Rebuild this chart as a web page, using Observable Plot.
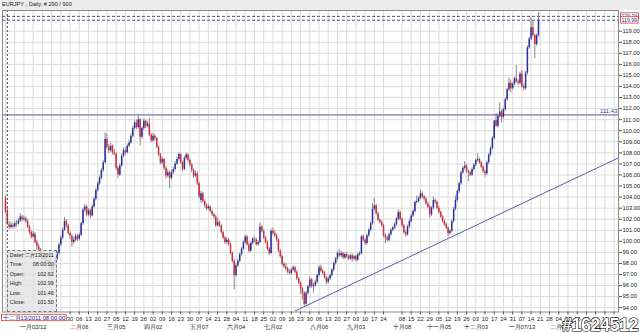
<!DOCTYPE html>
<html><head><meta charset="utf-8">
<script src="https://cdn.jsdelivr.net/npm/d3@7"></script>
<script src="https://cdn.jsdelivr.net/npm/@observablehq/plot@0.6"></script>
<style>
body{margin:0;background:#fff;font-family:"Liberation Sans",Arial,sans-serif;}
#wrap{position:relative;width:640px;height:333px;overflow:hidden;background:#fff;}
#title{height:10px;background:#ececec;font-size:5.6px;line-height:8px;padding-left:2px;color:#222;box-sizing:border-box;white-space:nowrap;}
#tip{position:absolute;background:rgba(228,228,228,0.85);border:1px dashed #777;font-size:5.4px;color:#222;box-sizing:border-box;}
#tip .row{position:relative;height:9.6px;line-height:9.6px;white-space:nowrap;}
#tip .k{position:absolute;left:2px;top:0;}
#tip .v{position:absolute;right:2px;top:0;}
#wm{position:absolute;right:2px;bottom:-3px;font:bold 18px "Liberation Sans",Arial,sans-serif;color:#fff;-webkit-text-stroke:1.2px #000;paint-order:stroke fill;letter-spacing:-0.5px;}
</style></head>
<body><div id="wrap"><div id="title"></div><div id="chart"></div><div id="tip"></div><div id="wm"></div></div>
<script>
const titleText = "EURJPY , Daily, # 290 / 900";
const watermark = "#1624512";

// Daily bars from 12 Dec 2011 to 18 Jan 2013 (trading-day order)
const open = [103.90,102.62,101.50,101.25,101.45,101.30,101.60,101.55,101.85,102.20,101.95,102.05,101.80,101.30,100.80,100.40,100.65,99.90,99.50,99.20,98.70,98.40,98.60,98.05,98.25,97.60,97.35,97.85,98.35,98.90,99.70,100.30,101.00,101.80,101.40,100.70,100.45,99.90,100.10,100.45,100.20,100.55,101.60,102.80,103.10,102.40,102.75,102.30,103.10,103.80,104.60,105.20,105.70,106.40,107.10,109.20,108.50,108.20,108.60,108.00,107.90,106.60,106.00,106.80,107.70,108.20,108.00,108.60,108.90,109.50,110.20,110.70,110.30,111.00,109.40,110.20,110.85,110.40,110.60,109.60,109.10,109.50,109.30,108.50,107.80,107.10,107.40,106.60,105.90,106.20,105.70,106.20,106.50,107.00,107.40,107.85,107.10,106.50,107.50,107.80,107.30,106.90,106.40,105.90,106.10,105.20,103.70,104.30,103.60,103.20,102.95,103.10,102.70,102.40,102.20,101.40,101.70,101.40,100.80,100.30,99.90,100.10,99.70,98.90,98.20,96.90,97.80,98.20,98.80,99.30,99.90,100.40,99.70,99.10,99.80,100.20,100.10,99.70,99.90,101.30,100.90,100.30,99.90,99.30,98.90,100.90,100.70,100.50,100.10,99.10,98.60,97.90,97.70,97.50,97.20,97.10,97.40,97.60,97.20,96.60,96.20,95.70,95.30,94.30,95.30,95.90,96.50,95.90,96.00,96.30,96.90,97.60,97.30,97.10,96.70,96.30,96.60,96.90,97.40,98.00,98.40,98.90,98.70,98.90,98.50,98.80,98.60,98.40,98.70,98.40,98.60,98.30,98.80,98.90,100.40,100.10,99.80,100.50,101.00,101.60,102.90,103.20,102.50,101.90,101.70,101.40,100.50,100.30,100.10,100.60,101.00,101.20,101.50,102.00,102.60,102.00,101.40,100.80,100.60,101.30,101.80,102.30,102.70,103.50,103.60,103.90,104.30,104.00,103.80,103.40,103.10,102.40,103.00,103.70,103.50,103.00,102.60,102.20,101.80,101.50,101.20,100.70,100.90,101.80,102.90,103.70,104.50,105.20,106.20,106.60,106.80,106.30,106.20,106.00,106.50,106.90,107.30,107.40,107.10,106.70,106.30,106.10,107.10,107.80,108.40,109.30,110.90,110.40,111.30,111.70,111.20,111.90,112.80,113.70,114.30,113.80,114.20,114.70,114.40,114.30,115.10,114.00,113.80,115.20,117.50,118.30,119.30,118.60,117.80,118.60];
const high = [104.10,102.99,101.80,101.70,101.65,101.80,101.85,102.05,102.50,102.35,102.30,102.20,101.95,101.45,100.95,100.90,100.80,100.10,99.75,99.35,98.95,98.90,98.75,98.50,98.40,97.80,98.00,98.55,99.10,99.85,100.50,101.20,102.15,101.95,101.55,100.85,100.60,100.35,100.65,100.60,100.75,101.75,103.00,103.35,103.25,102.95,102.90,103.30,104.00,104.80,105.40,105.90,106.60,107.30,109.80,109.70,108.75,108.85,108.70,108.30,108.00,106.75,107.00,107.90,108.45,108.40,108.80,109.15,109.75,110.40,110.90,110.95,111.43,111.10,110.35,111.05,110.95,110.85,111.10,109.75,109.75,109.65,109.40,108.65,107.95,107.60,107.50,106.75,106.45,106.35,106.40,106.70,107.20,107.60,108.00,107.95,107.25,107.70,107.95,107.90,107.45,107.05,106.55,106.35,106.25,105.35,104.50,104.45,103.75,103.40,103.30,103.20,102.85,102.55,102.35,102.10,101.85,101.55,100.95,100.45,100.30,100.25,99.85,99.05,98.35,97.95,98.40,98.95,99.45,100.05,100.55,100.50,99.85,99.95,100.35,100.40,100.25,100.05,101.70,101.45,101.05,100.45,100.05,99.45,101.10,101.20,100.95,100.65,100.25,99.25,98.75,98.10,98.00,97.65,97.45,97.55,97.80,97.70,97.35,96.75,96.35,95.85,95.45,95.45,96.05,96.80,96.65,96.20,96.45,97.05,97.80,97.85,97.45,97.25,96.85,96.75,97.05,97.55,98.15,98.55,99.05,99.25,99.10,99.00,98.95,98.95,98.75,98.85,98.85,98.75,98.75,98.95,99.05,100.55,100.55,100.25,100.65,101.15,101.75,103.40,103.87,103.35,102.65,102.05,101.85,101.55,100.65,100.45,100.75,101.15,101.35,101.65,102.15,102.85,102.75,102.15,101.55,100.95,101.45,101.95,102.45,102.85,103.65,104.10,104.05,104.60,104.45,104.15,103.95,103.55,103.25,103.15,104.00,103.85,103.65,103.15,102.75,102.35,101.95,101.65,101.35,101.05,101.95,103.05,104.10,104.65,105.35,106.35,106.75,107.20,106.95,106.45,106.35,106.65,107.05,107.45,107.90,107.55,107.25,106.85,106.45,107.25,107.95,108.55,109.45,110.55,111.55,111.50,112.50,111.85,112.05,112.95,113.85,114.75,114.60,114.35,114.85,115.90,114.60,115.30,115.45,114.20,115.35,117.65,118.45,120.20,119.90,118.75,118.75,120.70];
const low = [102.50,101.46,101.05,101.10,101.10,101.20,101.30,101.45,101.70,101.75,101.80,101.60,101.15,100.60,100.20,100.30,99.75,99.10,98.95,98.50,98.20,98.25,97.85,97.90,97.45,97.03,97.20,97.70,98.20,98.75,99.55,100.15,100.90,101.20,100.55,100.20,99.45,99.70,99.95,100.00,100.05,100.40,101.45,102.60,102.20,102.25,102.05,102.20,103.00,103.65,104.45,105.05,105.55,106.25,107.00,108.35,107.95,108.05,107.80,107.70,106.40,105.70,105.85,106.70,107.55,107.80,107.90,108.45,108.75,109.35,110.05,110.10,110.15,108.60,109.20,110.05,110.20,110.25,109.45,108.90,108.95,109.05,108.35,107.65,106.90,106.95,106.40,105.60,105.75,104.75,105.55,106.05,106.35,106.85,107.25,106.95,106.30,106.40,107.35,107.10,106.75,106.20,105.70,105.75,105.05,103.85,103.45,103.45,103.00,102.75,102.80,102.55,102.25,102.00,101.25,101.30,101.25,100.65,100.15,99.70,99.75,99.55,98.75,98.05,95.60,96.75,97.60,98.05,98.65,99.15,99.75,99.55,98.95,99.00,99.65,99.90,99.55,99.55,99.80,100.75,100.15,99.75,99.15,98.75,98.80,100.55,100.35,99.95,98.95,98.45,97.75,97.55,97.35,97.05,96.95,96.95,97.25,97.05,96.45,96.05,95.20,94.70,94.11,94.20,95.15,95.75,95.75,95.30,95.85,96.15,96.75,97.15,96.95,96.55,96.05,96.15,96.45,96.75,97.25,97.85,98.25,98.55,98.55,98.35,98.35,98.45,98.25,98.25,98.10,98.25,98.15,98.15,98.65,98.75,99.95,99.65,99.65,100.35,100.85,101.45,102.75,102.35,101.75,101.55,101.25,100.35,99.80,99.95,99.95,100.45,100.85,101.05,101.35,101.85,101.85,101.25,100.65,100.40,100.45,101.15,101.65,102.15,102.55,103.35,103.45,103.75,103.85,103.65,103.25,102.95,102.10,102.25,102.85,103.35,102.85,102.45,102.05,101.65,101.35,101.05,100.40,100.55,100.75,101.65,102.75,103.55,104.35,105.05,106.05,106.45,106.15,105.40,105.85,105.85,106.35,106.75,107.15,106.95,106.55,106.15,105.80,105.95,106.95,107.65,108.25,109.15,110.30,110.25,111.15,110.70,111.05,111.75,112.65,113.55,113.40,113.65,114.05,114.30,114.10,114.15,113.85,113.60,113.65,115.05,117.35,118.15,118.45,116.50,117.65,118.45];
const close = [102.62,101.50,101.25,101.45,101.30,101.60,101.55,101.85,102.20,101.95,102.05,101.80,101.30,100.80,100.40,100.65,99.90,99.50,99.20,98.70,98.40,98.60,98.05,98.25,97.60,97.35,97.85,98.35,98.90,99.70,100.30,101.00,101.80,101.40,100.70,100.45,99.90,100.10,100.45,100.20,100.55,101.60,102.80,103.10,102.40,102.75,102.30,103.10,103.80,104.60,105.20,105.70,106.40,107.10,109.20,108.50,108.20,108.60,108.00,107.90,106.60,106.00,106.80,107.70,108.20,108.00,108.60,108.90,109.50,110.20,110.70,110.30,111.00,109.40,110.20,110.85,110.40,110.60,109.60,109.10,109.50,109.30,108.50,107.80,107.10,107.40,106.60,105.90,106.20,105.70,106.20,106.50,107.00,107.40,107.85,107.10,106.50,107.50,107.80,107.30,106.90,106.40,105.90,106.10,105.20,104.00,104.30,103.60,103.20,102.95,103.10,102.70,102.40,102.20,101.40,101.70,101.40,100.80,100.30,99.90,100.10,99.70,98.90,98.20,96.90,97.80,98.20,98.80,99.30,99.90,100.40,99.70,99.10,99.80,100.20,100.10,99.70,99.90,101.30,100.90,100.30,99.90,99.30,98.90,100.90,100.70,100.50,100.10,99.10,98.60,97.90,97.70,97.50,97.20,97.10,97.40,97.60,97.20,96.60,96.20,95.70,95.30,94.30,95.30,95.90,96.50,95.90,96.00,96.30,96.90,97.60,97.30,97.10,96.70,96.30,96.60,96.90,97.40,98.00,98.40,98.90,98.70,98.90,98.50,98.80,98.60,98.40,98.70,98.40,98.60,98.30,98.80,98.90,100.40,100.10,99.80,100.50,101.00,101.60,102.90,103.20,102.50,101.90,101.70,101.40,100.50,100.30,100.10,100.60,101.00,101.20,101.50,102.00,102.60,102.00,101.40,100.80,100.60,101.30,101.80,102.30,102.70,103.50,103.60,103.90,104.30,104.00,103.80,103.40,103.10,102.40,103.00,103.70,103.50,103.00,102.60,102.20,101.80,101.50,101.20,100.70,100.90,101.80,102.90,103.70,104.50,105.20,106.20,106.60,106.80,106.30,106.20,106.00,106.50,106.90,107.30,107.40,107.10,106.70,106.30,106.10,107.10,107.80,108.40,109.30,110.90,110.40,111.30,111.70,111.20,111.90,112.80,113.70,114.30,113.80,114.20,114.70,114.40,114.30,115.10,114.00,113.80,115.20,117.50,118.30,119.30,118.60,117.80,118.60,119.99];

// Monday labels, one per trading week (week 0 = 12 Dec 2011); "" = no label shown
// (the first weeks sit under the cursor date box, so they show nothing)
const weekLabels = ["","","","","","","","30","06","13","20","27","05","12","19","26","02","09","16","23","30","07","14","21","28","04","11","18","25","02","09","16","23","30","06","13","20","27","03","10","17","24","","08","15","22","29","05","12","19","26","03","10","17","24","31","07","14","21","28","04","11","18","25","04","11","18"];
const gridWeeks = weekLabels.map((t, k) => k).filter(k => k !== 42);
const monthLabels = ["一月02/12","二月06","三月05","四月02","五月07","六月04","七月02","八月06","九月03","十月08","十一月05","十二月03","一月07/13","二月04","三月04"];
const monthWeeks = [3,8,12,16,21,25,29,34,38,43,47,51,56,60,64];
const priceTicks = [94,95,96,97,98,99,100,101,102,103,104,105,106,107,108,109,110,111,112,113,114,115,116,117,118,119];
const resistance = 111.43;
const lastHigh = 120.34;
const lastPrice = 119.99;
const trendPoints = [{bar: 157, price: 93.70}, {bar: 332.4, price: 107.55}];
const cursorBar = 1;
const cursorDate = "十二月13/2011";
const cursorTime = "08:00:00";

const daysPerWeek = 5;
const yDomain = [93.61, 120.87];
const bars = close.map((c, i) => ({i, o: open[i], h: high[i], l: low[i], c}));
const up = bars.filter(d => d.c >= d.o);
const down = bars.filter(d => d.c < d.o);
const weekTicks = weekLabels.map((t, k) => ({i: k * daysPerWeek, t})).filter(d => d.t !== "");
const labelOf = new Map(weekTicks.map(d => [d.i, d.t]));
const months = monthLabels.map((t, k) => ({i: monthWeeks[k] * daysPerWeek, t}));

const BLUE = "#2b2ea6", RED = "#d8283c", WICK = "#7a7a7a", GRID = "#dcdcdc";

document.getElementById("title").textContent = titleText;

const chart = Plot.plot({
  width: 640, height: 323,
  marginTop: 0, marginBottom: 21.5, marginLeft: 2, marginRight: 22,
  x: {type: "linear", domain: [-1.63, 332.4], axis: null},
  y: {domain: yDomain, axis: null},
  style: {fontFamily: "'Liberation Sans', Arial, sans-serif", fontSize: "5.8px", background: "#fff", color: "#222"},
  marks: [
    Plot.gridX(gridWeeks.map(k => k * daysPerWeek), {stroke: GRID, strokeOpacity: 1}),
    Plot.gridY(priceTicks, {stroke: GRID, strokeOpacity: 1}),
    Plot.ruleY([resistance], {stroke: "#55559c", strokeWidth: 1}),
    Plot.line(trendPoints, {x: "bar", y: "price", stroke: "#5b5ba8", strokeWidth: 1, clip: true}),
    Plot.ruleX(bars, {x: "i", y1: "l", y2: "h", stroke: WICK, strokeWidth: 0.9}),
    Plot.ruleX(up, {x: "i", y1: "o", y2: "c", stroke: BLUE, strokeWidth: 1.5}),
    Plot.ruleX(down, {x: "i", y1: "o", y2: "c", stroke: RED, strokeWidth: 1.5}),
    Plot.ruleY([lastHigh], {stroke: "#555", strokeDasharray: "3,2"}),
    Plot.ruleY([lastPrice], {stroke: "#4a4aa8", strokeDasharray: "3,2"}),
    Plot.ruleX([cursorBar], {stroke: "#444", strokeDasharray: "2,2"}),
    Plot.text([resistance], {y: d => d, text: d => d.toFixed(2), frameAnchor: "right", textAnchor: "end", dx: -1, dy: -3.5, fill: "#3b3b9a", fontSize: 6}),
    Plot.frame({stroke: "#8a8a8a"}),
    Plot.axisY(priceTicks, {anchor: "right", tickSize: 3, tickPadding: 1, tickFormat: d => d.toFixed(2), fontSize: 5.8, stroke: "#555"}),
    Plot.axisX(weekTicks.map(d => d.i), {anchor: "bottom", tickSize: 3, tickPadding: 1.5, tickFormat: d => labelOf.get(d), fontSize: 5.8, stroke: "#555"}),
    Plot.text(months, {x: "i", text: "t", frameAnchor: "bottom", dy: 16.5, fontSize: 5.8, fill: "#222"}),
    Plot.text([lastHigh, lastPrice], {y: d => d, text: d => d.toFixed(2), frameAnchor: "right", textAnchor: "start", dx: 3, fontSize: 5.2, fill: "#2a2a80", className: "pricebox"}),
    Plot.text([cursorBar], {text: () => cursorDate + " " + cursorTime, frameAnchor: "bottom-left", textAnchor: "start", dx: 0, dy: 7.5, fontSize: 5.8, fill: "#1a1a8a", className: "datebox"})
  ]
});
document.getElementById("chart").appendChild(chart);

// boxes behind the axis value labels
function boxify(cls, fill, stroke) {
  d3.select(chart).selectAll("g." + cls + " text").each(function() {
    const b = this.getBBox();
    d3.select(this.parentNode).insert("rect", () => this)
      .attr("x", b.x - 1).attr("y", b.y - 0.2).attr("width", b.width + 2).attr("height", b.height + 0.4)
      .attr("fill", fill).attr("stroke", stroke).attr("stroke-width", 0.8)
      .attr("transform", this.getAttribute("transform"));
  });
}
boxify("pricebox", "#fff", "#d04040");
boxify("datebox", "#fff", "#d04040");

// data window for the cursor bar
const xs = chart.scale("x"), ys = chart.scale("y");
const b1 = bars[cursorBar];
const tip = document.getElementById("tip");
const rows = [["Date:", cursorDate], ["Time:", cursorTime], ["Open:", b1.o.toFixed(2)], ["High:", b1.h.toFixed(2)], ["Low:", b1.l.toFixed(2)], ["Close:", b1.c.toFixed(2)]];
tip.innerHTML = rows.map(r => `<div class="row"><span class="k">${r[0]}</span><span class="v">${r[1]}</span></div>`).join("");
const left = xs.apply(cursorBar);
const bottom = 10 + ys.apply(yDomain[0]);
tip.style.left = left + "px";
tip.style.width = "50px";
tip.style.top = (bottom - 62) + "px";
tip.style.height = "62px";
document.getElementById("wm").textContent = watermark;
</script></body></html>
